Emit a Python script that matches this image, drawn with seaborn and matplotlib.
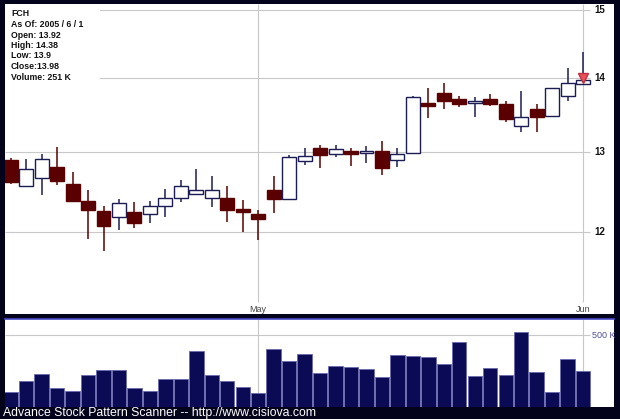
import numpy as np
import pandas as pd
import matplotlib
matplotlib.use("Agg")
import matplotlib.pyplot as plt
import seaborn as sns
from matplotlib.patches import Rectangle

# --- data ---
ticker = "FCH"
holidays = ["2005-05-30"]
dates = pd.bdate_range("2005-04-08", "2005-06-01")
dates = dates[~dates.isin(pd.to_datetime(holidays))]

opens = [12.90, 12.57, 12.67, 12.81, 12.59, 12.38, 12.25, 12.18, 12.24, 12.21,
         12.32, 12.41, 12.47, 12.42, 12.42, 12.28, 12.21, 12.51, 12.40, 12.88,
         13.05, 12.97, 13.01, 12.99, 13.02, 12.90, 12.99, 13.66, 13.80, 13.71,
         13.66, 13.71, 13.64, 13.34, 13.57, 13.48, 13.76, 13.92]
highs = [12.92, 12.91, 12.98, 13.07, 12.74, 12.51, 12.31, 12.40, 12.36, 12.38,
         12.53, 12.64, 12.78, 12.69, 12.56, 12.39, 12.26, 12.69, 12.96, 13.05,
         13.09, 13.09, 13.05, 13.08, 13.15, 13.05, 13.75, 13.86, 13.94, 13.75,
         13.74, 13.78, 13.69, 13.83, 13.64, 13.87, 14.14, 14.38]
lows = [12.59, 12.55, 12.45, 12.58, 12.36, 11.91, 11.77, 12.02, 12.05, 12.10,
        12.18, 12.36, 12.46, 12.30, 12.12, 12.00, 11.90, 12.23, 12.39, 12.83,
        12.80, 12.93, 12.82, 12.86, 12.70, 12.81, 12.98, 13.45, 13.58, 13.60,
        13.46, 13.61, 13.40, 13.27, 13.26, 13.47, 13.69, 13.90]
closes = [12.61, 12.78, 12.91, 12.63, 12.38, 12.27, 12.07, 12.35, 12.11, 12.31,
          12.42, 12.57, 12.52, 12.52, 12.27, 12.24, 12.15, 12.40, 12.93, 12.95,
          12.96, 13.04, 12.98, 13.02, 12.80, 12.98, 13.74, 13.61, 13.69, 13.64,
          13.69, 13.65, 13.44, 13.46, 13.46, 13.86, 13.93, 13.98]
volumes_k = [102, 181, 230, 132, 109, 219, 253, 253, 132, 112,
             195, 195, 390, 219, 177, 137, 98, 400, 321, 367,
             233, 281, 277, 263, 205, 360, 351, 344, 298, 449,
             214, 267, 221, 521, 240, 102, 330, 251]
price_ticks = [12, 13, 14, 15]
volume_ticks_k = [500]
signal_idx = [37]

BG = "#03031c"
DOWN = "#5a0000"
UP_EDGE = "#1c1c55"
VOL = "#0b0b55"
GRID = "#c8c8c8"

df = pd.DataFrame({"date": dates, "open": opens, "high": highs,
                   "low": lows, "close": closes, "volume": volumes_k})
df["pos"] = np.arange(len(df))
up = df["close"] >= df["open"]

# first trading day of each month -> month gridline
month_first = df.groupby(df["date"].dt.to_period("M"))["pos"].min()
month_first = month_first[month_first > 0]

sns.set_style("white")
plt.rcParams["font.family"] = ["Liberation Sans", "DejaVu Sans"]

fig = plt.figure(figsize=(6.2, 4.19), dpi=100, facecolor=BG)
ax = fig.add_axes([5 / 620, 105 / 419, 609 / 620, 310 / 419])
ax_v = fig.add_axes([5 / 620, 12.3 / 419, 609 / 620, 87.7 / 419])

xlim = (-0.368, 39.0)
ylim = (11.048, 15.086)

# ---- price panel ----
ax.set_yscale("log")
ax.set_xlim(*xlim)
ax.set_ylim(*ylim)
ax.hlines(price_ticks, xlim[0], 37.45, color=GRID, lw=0.8, zorder=1)
ax.vlines(month_first.values, 11.18, ylim[1], color=GRID, lw=0.8, zorder=1)

wick_colors = np.where(up, UP_EDGE, DOWN)
ax.vlines(df["pos"], df["low"], df["high"], colors=wick_colors, lw=1.1, zorder=2)
body_bottom = np.minimum(df["open"], df["close"])
body_height = np.abs(df["close"] - df["open"]).clip(lower=0.004)
ax.bar(df["pos"], body_height, bottom=body_bottom, width=0.9,
       color=np.where(up, "white", DOWN), edgecolor=np.where(up, UP_EDGE, DOWN),
       lw=1.0, zorder=3)

sig = df.loc[signal_idx]
ax.plot(sig["pos"], sig["close"] * 1.002, "v", color="#e8505a",
        markeredgecolor="#c03040", markersize=7.5, zorder=4)

for p in price_ticks:
    ax.text(38.1, p, str(p), ha="center", va="center", fontsize=7,
            fontweight="bold", color="#111111")
for m, pos in month_first.items():
    ax.text(pos, 11.10, m.strftime("%b"), ha="center", va="center",
            fontsize=6.5, color="#444444")

# info box top-left
ax.add_patch(Rectangle((0, 0.752), 0.156, 0.248, transform=ax.transAxes,
                       facecolor="white", edgecolor="none", zorder=2))
last = df.iloc[-1]
info = [ticker,
        f"As Of: {last['date'].year} / {last['date'].month} / {last['date'].day}",
        f"Open: {last['open']:g}",
        f"High: {last['high']:g}",
        f"Low: {last['low']:g}",
        f"Close:{last['close']:g}",
        f"Volume: {last['volume']:g} K"]
for i, line in enumerate(info):
    ax.text(0.0099, (314 - 14 - i * 10.5) / 310, line, transform=ax.transAxes,
            ha="left", va="center", fontsize=6.3, fontweight="bold",
            color="#111111", zorder=3)

ax.set_xticks([])
ax.set_yticks([])
ax.minorticks_off()
for s in ax.spines.values():
    s.set_visible(False)

# ---- volume panel ----
sns.barplot(x=df["pos"], y=df["volume"], ax=ax_v, color=VOL, width=0.93,
            saturation=1, edgecolor="#6a6ab0", linewidth=0.6, zorder=2)
ax_v.set_xlim(*xlim)
ax_v.set_ylim(0, 611.6)
ax_v.hlines(volume_ticks_k, xlim[0], 37.45, color=GRID, lw=0.8, zorder=1)
ax_v.vlines(month_first.values, 0, 611.6, color=GRID, lw=0.8, zorder=1)
for v in volume_ticks_k:
    ax_v.text(37.58, v, f"{v} K", ha="left", va="center", fontsize=6.5,
              color="#5050a0")
ax_v.set_xticks([])
ax_v.set_yticks([])
ax_v.set_xlabel("")
ax_v.set_ylabel("")
for name, s in ax_v.spines.items():
    s.set_visible(name == "top")
ax_v.spines["top"].set_color("#4848c8")
ax_v.spines["top"].set_linewidth(1.2)

fig.text(3 / 620, 1 - 413 / 419, "Advance Stock Pattern Scanner -- http://www.cisiova.com",
         color="white", fontsize=8.8, ha="left", va="center")

fig.savefig("out.png", dpi=100, facecolor=BG)
